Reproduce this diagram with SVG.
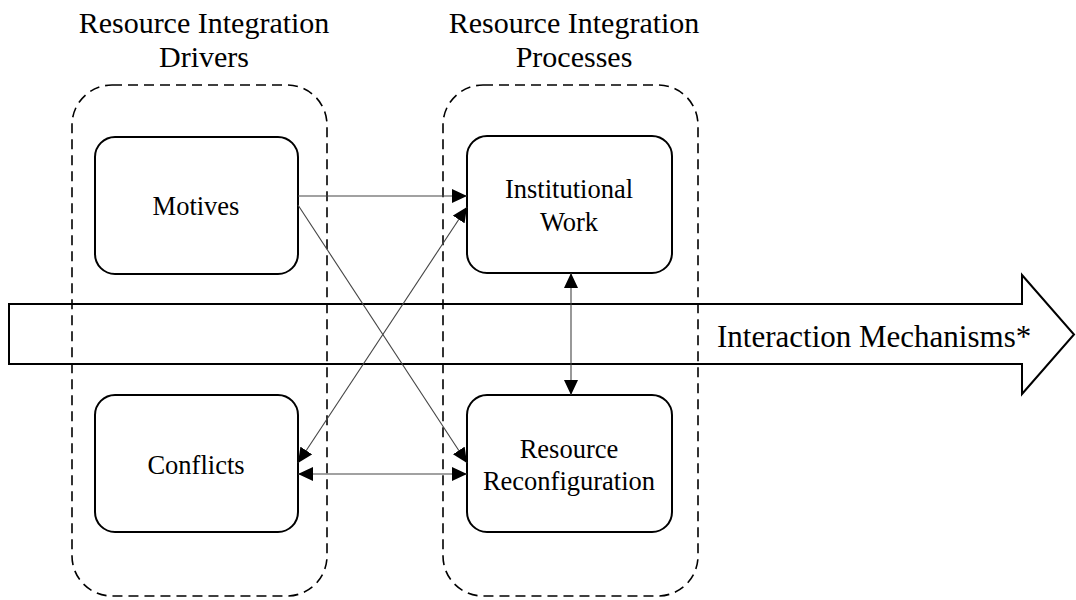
<svg xmlns="http://www.w3.org/2000/svg" width="1076" height="600" viewBox="0 0 1076 600">
<style>
text{font-family:"Liberation Serif","Times New Roman",serif;fill:#000;text-anchor:middle}
.title{font-size:30px}
.node{font-size:26.5px}
.big{font-size:31px;text-anchor:start}
.box{fill:none;stroke:#000;stroke-width:2}
.group{fill:none;stroke:#000;stroke-width:1.6;stroke-dasharray:10 6}
.conn{fill:none;stroke:#444;stroke-width:1.1}
</style>
<defs>
<marker id="ah" markerUnits="userSpaceOnUse" markerWidth="16" markerHeight="14" viewBox="0 0 16 14" refX="15" refY="7" orient="auto-start-reverse">
<path d="M0,0 L15,7 L0,14 z" fill="#000"/>
</marker>
</defs>
<g id="flow-arrow">
<path d="M9,304 L1022,304 L1022,275 L1074,334.5 L1022,394 L1022,364 L9,364 Z" fill="none" stroke="#000" stroke-width="2"/>
<text class="big" x="717" y="347">Interaction Mechanisms*</text>
</g>
<g id="drivers">
<rect class="group" x="72" y="85" width="255" height="511" rx="40"/>
<text class="title" x="204" y="33">Resource Integration</text>
<text class="title" x="204" y="67">Drivers</text>
</g>
<g id="processes">
<rect class="group" x="443" y="85" width="255" height="511" rx="40"/>
<text class="title" x="574" y="33">Resource Integration</text>
<text class="title" x="574" y="67">Processes</text>
</g>
<g id="motives">
<rect class="box" x="95" y="137" width="203" height="137" rx="20"/>
<text class="node" x="196" y="215">Motives</text>
</g>
<g id="conflicts">
<rect class="box" x="95" y="395" width="203" height="137" rx="20"/>
<text class="node" x="196" y="474">Conflicts</text>
</g>
<g id="institutional-work">
<rect class="box" x="467" y="136" width="205" height="137" rx="20"/>
<text class="node" x="569" y="198">Institutional</text>
<text class="node" x="569" y="231">Work</text>
</g>
<g id="resource-reconfiguration">
<rect class="box" x="467" y="395" width="205" height="137" rx="20"/>
<text class="node" x="569" y="458">Resource</text>
<text class="node" x="569" y="490">Reconfiguration</text>
</g>
<g id="connectors">
<line class="conn" x1="298" y1="196" x2="467" y2="196" marker-end="url(#ah)"/>
<line class="conn" x1="298" y1="205" x2="467" y2="463" marker-end="url(#ah)"/>
<line class="conn" x1="298" y1="463" x2="467" y2="207" marker-start="url(#ah)" marker-end="url(#ah)"/>
<line class="conn" x1="298" y1="474" x2="467" y2="474" marker-start="url(#ah)" marker-end="url(#ah)"/>
<line class="conn" x1="571" y1="273" x2="571" y2="395" marker-start="url(#ah)" marker-end="url(#ah)"/>
</g>
</svg>
